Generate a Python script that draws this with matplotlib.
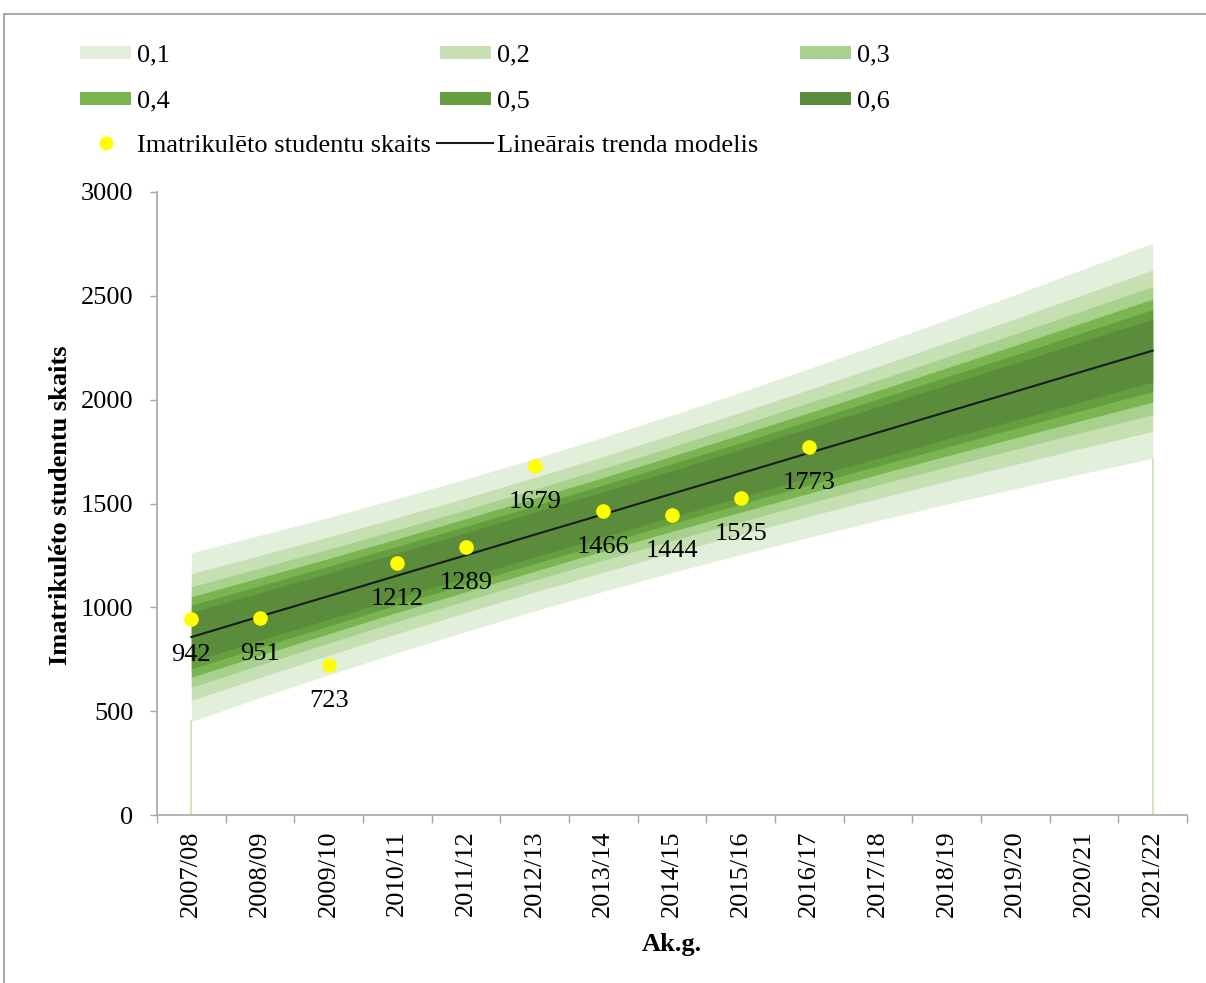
import matplotlib
matplotlib.use("Agg")
import matplotlib.pyplot as plt
from matplotlib.patches import Rectangle
from matplotlib.lines import Line2D

# Academic years on the category axis
years = ["2007/08", "2008/09", "2009/10", "2010/11", "2011/12", "2012/13",
         "2013/14", "2014/15", "2015/16", "2016/17", "2017/18", "2018/19",
         "2019/20", "2020/21", "2021/22"]

# Enrolled students (observed years only)
students = [942, 951, 723, 1212, 1289, 1679, 1466, 1444, 1525, 1773]

# Linear trend model values for every year
trend = [857, 956, 1054, 1153, 1251, 1350, 1448, 1547, 1645, 1744,
         1842, 1941, 2039, 2138, 2236]

# Half-widths of the fan bands around the trend (significance levels 0.1 ... 0.6)
half_01 = [406, 391, 379, 371, 367, 367, 371, 379, 391, 406, 424, 444, 467, 492, 518]
half_02 = [305, 294, 285, 279, 276, 276, 279, 285, 294, 305, 318, 334, 351, 369, 389]
half_03 = [242, 233, 226, 221, 219, 219, 221, 226, 233, 242, 252, 265, 278, 293, 309]
half_04 = [194, 187, 181, 177, 176, 176, 177, 181, 187, 194, 202, 212, 223, 235, 248]
half_05 = [154, 148, 144, 141, 139, 139, 141, 144, 148, 154, 161, 169, 177, 187, 197]
half_06 = [119, 115, 111, 109, 108, 108, 109, 111, 115, 119, 124, 130, 137, 144, 152]

band_labels = ["0,1", "0,2", "0,3", "0,4", "0,5", "0,6"]
band_halves = [half_01, half_02, half_03, half_04, half_05, half_06]
band_colors = ["#e2efda", "#c6e0b4", "#a9d18e", "#7ab551", "#659e3f", "#5a8c3b"]

point_label = "Imatrikulēto studentu skaits"
trend_label = "Lineārais trenda modelis"
y_title = "Imatrikuléto studentu skaits"
x_title = "Ak.g."

SERIF = ["Liberation Serif", "DejaVu Serif"]
plt.rcParams["font.family"] = SERIF
FS = 19

W, H = 1206, 983
fig = plt.figure(figsize=(W / 100, H / 100), dpi=100)
fig.patch.set_facecolor("white")


def fx(px):
    return px / W


def fy(py):
    return 1 - py / H


# outer chart frame (top and left edges visible)
fig.add_artist(Rectangle((fx(4), fy(H + 20)), fx(W + 20) - fx(4), fy(14) - fy(H + 20),
                         transform=fig.transFigure, fill=False,
                         edgecolor="#a0a0a0", linewidth=1.3))

ax = fig.add_axes([fx(157), fy(815), fx(1187) - fx(157), fy(192) - fy(815)])
x = list(range(len(years)))

# fan bands, widest first
for halves, color in zip(band_halves, band_colors):
    lo = [t - h for t, h in zip(trend, halves)]
    hi = [t + h for t, h in zip(trend, halves)]
    ax.fill_between(x, lo, hi, color=color, linewidth=0, zorder=2)

# thin drop lines at both ends of the fan
for i in (x[0], x[-1]):
    ax.plot([i, i], [0, trend[i] - half_01[i]], color="#c6e0b4", linewidth=1.2, zorder=1)

ax.plot(x, trend, color="#1a1a1a", linewidth=1.5, zorder=3)

xs = list(range(len(students)))
ax.plot(xs, students, linestyle="none", marker="o", markersize=9.5,
        markerfacecolor="#ffff00", markeredgecolor="#ffff00", zorder=4)
for xi, v in zip(xs, students):
    ax.annotate(str(v), (xi, v), xytext=(0, -26), textcoords="offset points",
                ha="center", va="center", fontsize=FS, family=SERIF, zorder=5)

ax.set_xlim(-0.5, len(years) - 0.5)
ax.set_ylim(0, 3000)
ax.set_yticks([0, 500, 1000, 1500, 2000, 2500, 3000])
ax.set_xticks(x)
ax.set_xticklabels(years, rotation=90)
ax.set_xticks([i - 0.5 for i in range(len(years) + 1)], minor=True)
ax.tick_params(axis="x", which="major", length=0, pad=11, labelsize=FS)
ax.tick_params(axis="x", which="minor", length=6, width=1, color="#a6a6a6", direction="out")
ax.tick_params(axis="y", which="major", length=5, width=1, color="#a6a6a6",
               pad=12, labelsize=FS)

for side in ("top", "right"):
    ax.spines[side].set_visible(False)
for side in ("left", "bottom"):
    ax.spines[side].set_color("#a6a6a6")
    ax.spines[side].set_linewidth(1.2)

fig.text(fx(61), fy(505), y_title, rotation=90, ha="center", va="center",
         fontsize=19, fontweight="bold", family=SERIF)
fig.text(fx(672), fy(944), x_title, ha="center", va="center",
         fontsize=19, fontweight="bold", family=SERIF)

# legend, laid out in three columns
col_x = [80, 440, 800]
row_y = [52, 98, 143]
for k, (lab, color) in enumerate(zip(band_labels, band_colors)):
    r, c = divmod(k, 3)
    x0, yc = col_x[c], row_y[r]
    fig.add_artist(Rectangle((fx(x0), fy(yc + 6.5)), fx(51), 13 / H,
                             transform=fig.transFigure, facecolor=color,
                             edgecolor="none"))
    fig.text(fx(x0 + 57), fy(yc + 9), lab, ha="left", va="baseline",
             fontsize=FS, family=SERIF)

yc = row_y[2]
fig.add_artist(Line2D([fx(106)], [fy(yc)], marker="o", markersize=9,
                      markerfacecolor="#ffff00", markeredgecolor="#ffff00",
                      linestyle="none", transform=fig.transFigure))
fig.text(fx(137), fy(yc + 9), point_label, ha="left", va="baseline",
         fontsize=FS, family=SERIF)
fig.add_artist(Line2D([fx(437), fx(493)], [fy(yc), fy(yc)], color="#1a1a1a",
                      linewidth=1.5, transform=fig.transFigure))
fig.text(fx(497), fy(yc + 9), trend_label, ha="left", va="baseline",
         fontsize=FS, family=SERIF)

fig.savefig("out.png", dpi=100, facecolor="white")
